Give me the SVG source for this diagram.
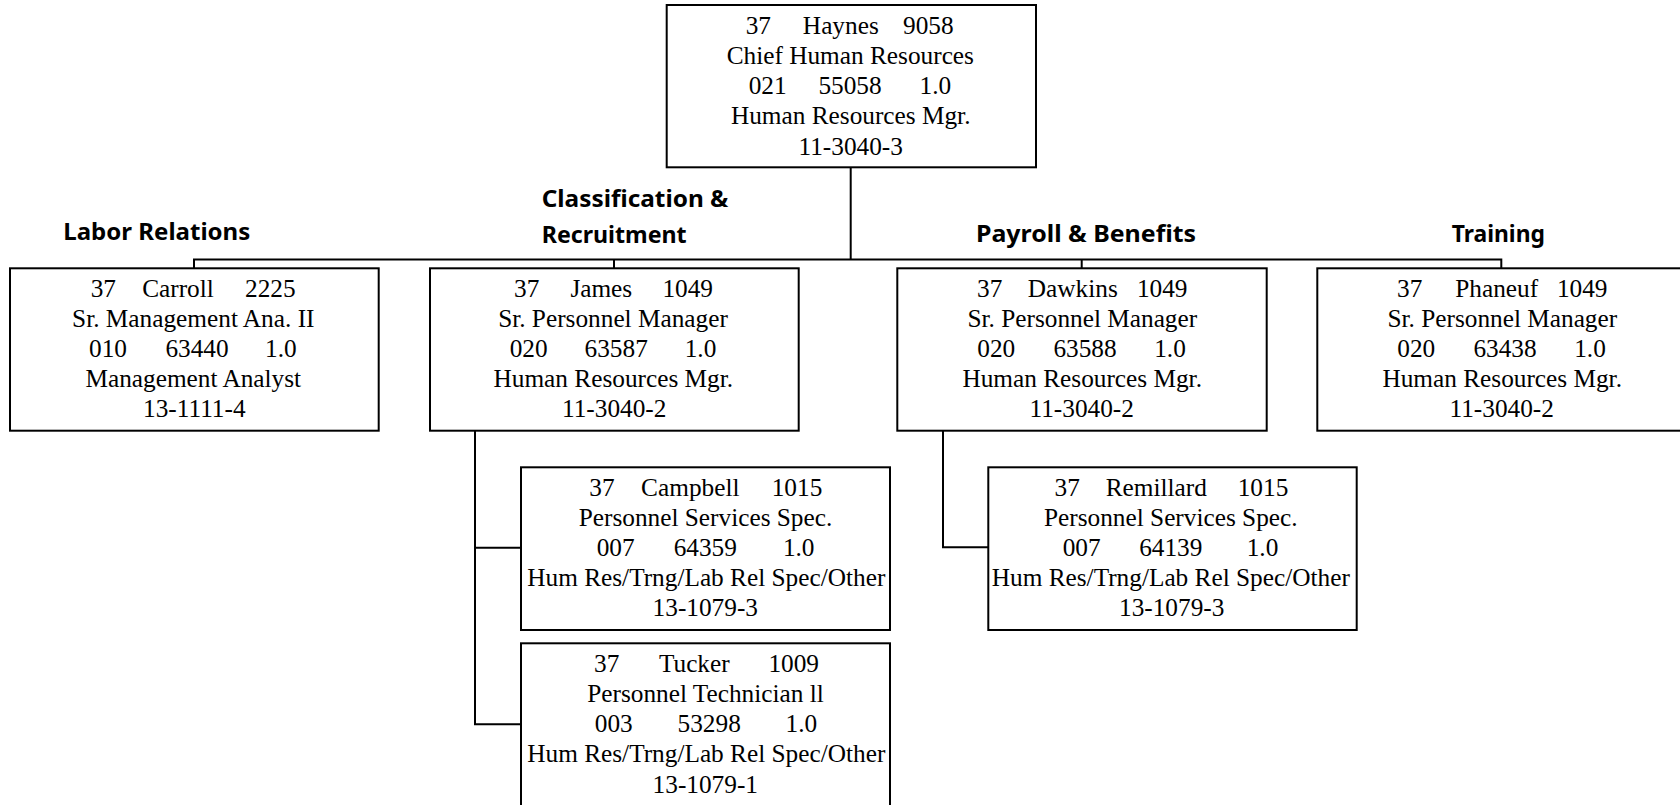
<svg xmlns="http://www.w3.org/2000/svg" width="1680" height="805" viewBox="0 0 1680 805">
  <style>
    .box { fill: #ffffff; stroke: #000000; stroke-width: 2; }
    .t { font-family: "Liberation Serif", "Times New Roman", serif; font-size: 25.3px; fill: #000000; text-anchor: middle; }
    .h { font-family: "Comic Sans MS", "Noto Sans", sans-serif; font-weight: bold; font-size: 22.5px; fill: #000000; }
    .wire { fill: none; stroke: #000000; stroke-width: 2; }
  </style>
  <rect width="1680" height="805" fill="#ffffff"/>

  <!-- connectors -->
  <g id="connectors">
    <path class="wire" d="M850.7 167 V259.5"/>
    <path class="wire" d="M194 268 V259.5 H1501.3 V268"/>
    <path class="wire" d="M614 259.5 V268"/>
    <path class="wire" d="M1081.7 259.5 V268"/>
    <path class="wire" d="M475 431 V724.3 H521"/>
    <path class="wire" d="M475 547.7 H521"/>
    <path class="wire" d="M943 431 V547.3 H988.3"/>
  </g>

  <!-- section headings -->
  <g id="headings">
    <text class="h" x="63.3" y="240" textLength="187" lengthAdjust="spacingAndGlyphs">Labor Relations</text>
    <text class="h" x="541.7" y="206.5" textLength="186.7" lengthAdjust="spacingAndGlyphs">Classification &amp;</text>
    <text class="h" x="541.7" y="243.3" textLength="145" lengthAdjust="spacingAndGlyphs">Recruitment</text>
    <text class="h" x="976" y="241.7" textLength="220" lengthAdjust="spacingAndGlyphs">Payroll &amp; Benefits</text>
    <text class="h" x="1451.7" y="241.7" textLength="93.3" lengthAdjust="spacingAndGlyphs">Training</text>
  </g>

  <g id="haynes">
    <rect class="box" x="666.7" y="5" width="369.3" height="162.3"/>
    <text class="t" x="758.3" y="34">37</text>
    <text class="t" x="840.8" y="34">Haynes</text>
    <text class="t" x="928.3" y="34">9058</text>
    <text class="t" x="850.3" y="64.2">Chief Human Resources</text>
    <text class="t" x="767.7" y="94.4">021</text>
    <text class="t" x="850" y="94.4">55058</text>
    <text class="t" x="935.3" y="94.4">1.0</text>
    <text class="t" x="850.7" y="124.4">Human Resources Mgr.</text>
    <text class="t" x="850.7" y="154.6">11-3040-3</text>
  </g>

  <g id="carroll">
    <rect class="box" x="10" y="268.3" width="368.7" height="162.4"/>
    <text class="t" x="103.3" y="296.7">37</text>
    <text class="t" x="178" y="296.7">Carroll</text>
    <text class="t" x="270.3" y="296.7">2225</text>
    <text class="t" x="193.3" y="326.9">Sr. Management Ana. II</text>
    <text class="t" x="108" y="357">010</text>
    <text class="t" x="197" y="357">63440</text>
    <text class="t" x="280.8" y="357">1.0</text>
    <text class="t" x="193.3" y="387.1">Management Analyst</text>
    <text class="t" x="194.3" y="417.3">13-1111-4</text>
  </g>

  <g id="james">
    <rect class="box" x="430" y="268.3" width="368.7" height="162.4"/>
    <text class="t" x="526.7" y="296.7">37</text>
    <text class="t" x="601.3" y="296.7">James</text>
    <text class="t" x="687.7" y="296.7">1049</text>
    <text class="t" x="613" y="326.9">Sr. Personnel Manager</text>
    <text class="t" x="528.7" y="357">020</text>
    <text class="t" x="616.2" y="357">63587</text>
    <text class="t" x="700.5" y="357">1.0</text>
    <text class="t" x="613.3" y="387.1">Human Resources Mgr.</text>
    <text class="t" x="614.2" y="417.3">11-3040-2</text>
  </g>

  <g id="dawkins">
    <rect class="box" x="897.3" y="268.3" width="369.4" height="162.4"/>
    <text class="t" x="989.7" y="296.7">37</text>
    <text class="t" x="1072.8" y="296.7">Dawkins</text>
    <text class="t" x="1162.2" y="296.7">1049</text>
    <text class="t" x="1082.3" y="326.9">Sr. Personnel Manager</text>
    <text class="t" x="996.3" y="357">020</text>
    <text class="t" x="1085" y="357">63588</text>
    <text class="t" x="1170" y="357">1.0</text>
    <text class="t" x="1082.2" y="387.1">Human Resources Mgr.</text>
    <text class="t" x="1081.7" y="417.3">11-3040-2</text>
  </g>

  <g id="phaneuf">
    <rect class="box" x="1317.3" y="268.3" width="369.4" height="162.4"/>
    <text class="t" x="1409.7" y="296.7">37</text>
    <text class="t" x="1496.7" y="296.7">Phaneuf</text>
    <text class="t" x="1582.2" y="296.7">1049</text>
    <text class="t" x="1502.3" y="326.9">Sr. Personnel Manager</text>
    <text class="t" x="1416.3" y="357">020</text>
    <text class="t" x="1505" y="357">63438</text>
    <text class="t" x="1590" y="357">1.0</text>
    <text class="t" x="1502.2" y="387.1">Human Resources Mgr.</text>
    <text class="t" x="1501.7" y="417.3">11-3040-2</text>
  </g>

  <g id="campbell">
    <rect class="box" x="521" y="467.3" width="369" height="162.7"/>
    <text class="t" x="602" y="495.5">37</text>
    <text class="t" x="690.3" y="495.5">Campbell</text>
    <text class="t" x="797" y="495.5">1015</text>
    <text class="t" x="705.5" y="525.7">Personnel Services Spec.</text>
    <text class="t" x="615.7" y="555.9">007</text>
    <text class="t" x="705.3" y="555.9">64359</text>
    <text class="t" x="798.7" y="555.9">1.0</text>
    <text class="t" x="706.3" y="586.1">Hum Res/Trng/Lab Rel Spec/Other</text>
    <text class="t" x="705.3" y="616.3">13-1079-3</text>
  </g>

  <g id="tucker">
    <rect class="box" x="521" y="643.3" width="369" height="162.7"/>
    <text class="t" x="606.7" y="671.7">37</text>
    <text class="t" x="694.3" y="671.7">Tucker</text>
    <text class="t" x="793.7" y="671.7">1009</text>
    <text class="t" x="705.5" y="701.9">Personnel Technician ll</text>
    <text class="t" x="613.8" y="732.1">003</text>
    <text class="t" x="709.2" y="732.1">53298</text>
    <text class="t" x="801.3" y="732.1">1.0</text>
    <text class="t" x="706.3" y="762.3">Hum Res/Trng/Lab Rel Spec/Other</text>
    <text class="t" x="705.3" y="792.5">13-1079-1</text>
  </g>

  <g id="remillard">
    <rect class="box" x="988.3" y="467.3" width="368.4" height="162.7"/>
    <text class="t" x="1067.2" y="495.5">37</text>
    <text class="t" x="1156.3" y="495.5">Remillard</text>
    <text class="t" x="1263" y="495.5">1015</text>
    <text class="t" x="1170.8" y="525.7">Personnel Services Spec.</text>
    <text class="t" x="1081.7" y="555.9">007</text>
    <text class="t" x="1170.8" y="555.9">64139</text>
    <text class="t" x="1262.5" y="555.9">1.0</text>
    <text class="t" x="1170.8" y="586.1">Hum Res/Trng/Lab Rel Spec/Other</text>
    <text class="t" x="1171.7" y="616.3">13-1079-3</text>
  </g>
</svg>
